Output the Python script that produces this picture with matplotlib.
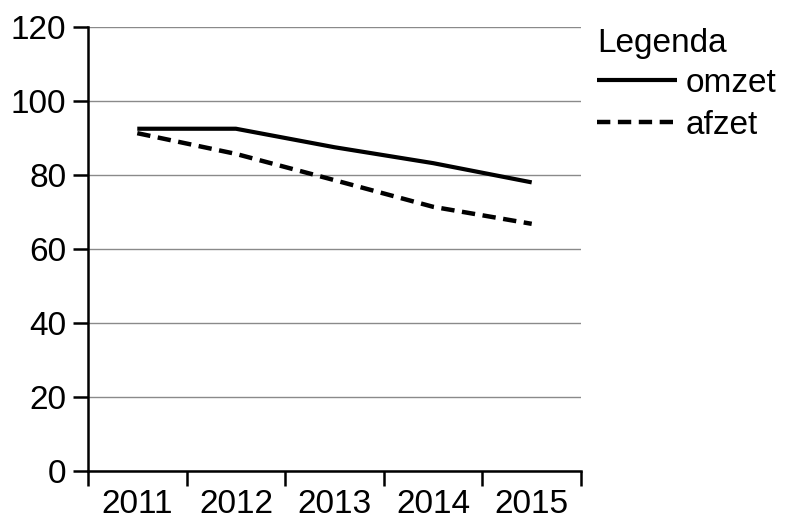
import numpy as np
import matplotlib.pyplot as plt

plt.rcParams['font.family'] = ['Liberation Sans', 'DejaVu Sans']

# data
years = ['2011', '2012', '2013', '2014', '2015']
omzet = [92.5, 92.5, 87.5, 83.2, 78.0]
afzet = [91.3, 85.7, 78.6, 71.4, 66.8]
y_ticks = [0, 20, 40, 60, 80, 100, 120]

fig = plt.figure(figsize=(7.89, 5.26), dpi=100)
ax = fig.add_axes([0.1115, 0.1046, 0.7364 - 0.1115, 0.9487 - 0.1046])

x = np.arange(len(years))
l1, = ax.plot(x, omzet, color='black', lw=3, solid_capstyle='butt', label='omzet')
l2, = ax.plot(x, afzet, color='black', lw=3.2, linestyle=(0, (3.0, 1.7)),
              dash_capstyle='butt', label='afzet')

ax.set_xlim(-0.5, len(years) - 0.5)
ax.set_ylim(0, 120)
ax.set_yticks(y_ticks)
ax.yaxis.grid(True, color='#8a8a8a', lw=1.0)
ax.set_axisbelow(True)

# category labels between boundary ticks
ax.set_xticks(np.arange(len(years) + 1) - 0.5)
ax.set_xticklabels([])
ax.set_xticks(x, minor=True)
ax.set_xticklabels(years, minor=True)
ax.tick_params(axis='x', which='major', length=10.5, width=1.8, direction='out')
ax.tick_params(axis='x', which='minor', length=0, pad=13, labelsize=24)
ax.tick_params(axis='y', length=10.5, width=1.8, labelsize=24, pad=5)

for s in ['top', 'right']:
    ax.spines[s].set_visible(False)
for s in ['left', 'bottom']:
    ax.spines[s].set_linewidth(1.8)

leg = fig.legend(handles=[l1, l2], title='Legenda', loc='upper left',
                 bbox_to_anchor=(0.757, 0.946), frameon=False, fontsize=24,
                 title_fontsize=24, handlelength=2.4, handletextpad=0.25,
                 labelspacing=0.33, borderaxespad=0, borderpad=0,
                 alignment='left')
leg._legend_box.sep = 6

fig.savefig('out.png', dpi=100)
